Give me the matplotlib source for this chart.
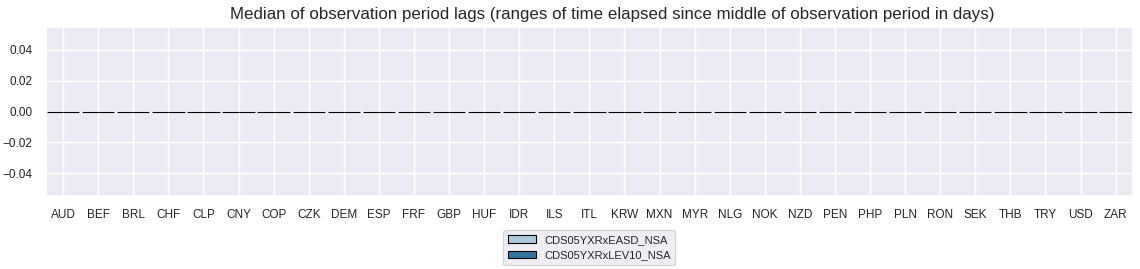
import matplotlib
matplotlib.use("Agg")
import matplotlib.pyplot as plt
import pandas as pd
import seaborn as sns

cids = ["AUD", "BEF", "BRL", "CHF", "CLP", "CNY", "COP", "CZK", "DEM", "ESP",
        "FRF", "GBP", "HUF", "IDR", "ILS", "ITL", "KRW", "MXN", "MYR", "NLG",
        "NOK", "NZD", "PEN", "PHP", "PLN", "RON", "SEK", "THB", "TRY", "USD", "ZAR"]
xcats = ["CDS05YXRxEASD_NSA", "CDS05YXRxLEV10_NSA"]

# median lags (all zero)
easd_lags = [0.0] * len(cids)
lev10_lags = [0.0] * len(cids)

df = pd.DataFrame({
    "cid": cids * 2,
    "xcat": [xcats[0]] * len(cids) + [xcats[1]] * len(cids),
    "value": easd_lags + lev10_lags,
})

sns.set_theme(style="darkgrid")
plt.rcParams["font.family"] = ["Liberation Sans", "DejaVu Sans"]

fig, ax = plt.subplots(figsize=(11.4, 2.69), dpi=100)
sns.barplot(data=df, x="cid", y="value", hue="xcat", palette="Paired",
            edgecolor="black", linewidth=0.8, width=0.92, ax=ax)

ax.set_ylim(-0.055, 0.055)
ax.xaxis.grid(True)
ax.set_xlabel("")
ax.set_ylabel("")
ax.tick_params(labelsize=8.5)
ax.set_title("Median of observation period lags (ranges of time elapsed since middle of observation period in days)",
             fontsize=12.2, x=0.521)

ax.legend(loc="upper center", bbox_to_anchor=(0.5, -0.17), ncol=1, fontsize=8,
          handlelength=2.5)

plt.subplots_adjust(left=0.04, right=0.994, top=0.9, bottom=0.271)
plt.savefig("out.png")
plt.close()
